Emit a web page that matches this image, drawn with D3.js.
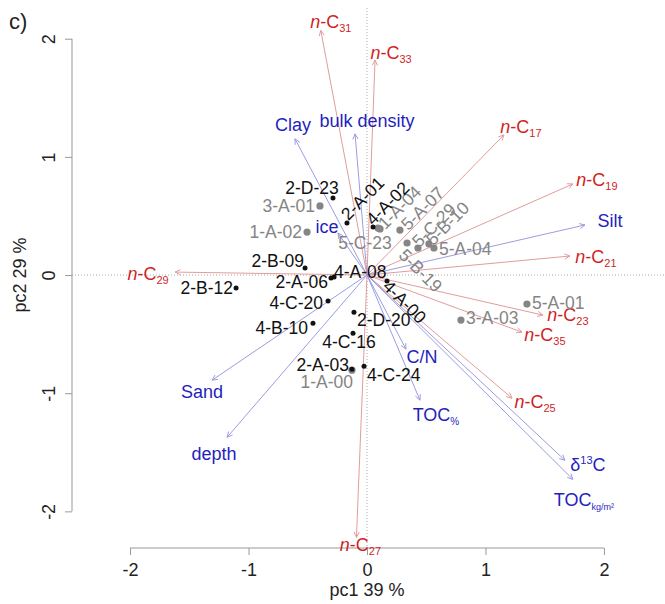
<!DOCTYPE html>
<html>
<head>
<meta charset="utf-8">
<script src="https://cdn.jsdelivr.net/npm/d3@7"></script>
<style>
body { margin: 0; background: #fff; }
text { font-family: "Liberation Sans", Arial, sans-serif; }
</style>
</head>
<body>
<svg id="chart" width="665" height="604"></svg>
<script>
// sample scores (pc1, pc2)
const sampleNames = ["3-A-01","1-A-02","1-A-04","5-C-23","5-A-07","5-B-19","5-C-29","5-B-10","5-A-04","5-A-01","3-A-03","1-A-00",
                     "2-D-23","2-A-01","4-A-02","2-B-09","2-A-06","4-A-08","2-B-12","4-C-20","4-B-10","2-D-20","4-C-16","2-A-03","4-C-24","4-A-00"];
const samplePC1 = [-0.397,-0.506,0.110,0.093,0.278,0.338,0.430,0.523,0.565,1.350,0.793,-0.127,
                   -0.287,-0.169,0.051,-0.523,-0.304,-0.278,-1.105,-0.329,-0.456,-0.110,-0.118,-0.127,-0.025,0.169];
const samplePC2 = [0.585,0.364,0.390,0.398,0.381,0.271,0.229,0.263,0.229,-0.246,-0.381,-0.805,
                   0.653,0.441,0.407,0.059,-0.025,-0.017,-0.110,-0.220,-0.407,-0.314,-0.492,-0.797,-0.771,-0.051];
const sampleGroup = ["g","g","g","g","g","g","g","g","g","g","g","g",
                     "b","b","b","b","b","b","b","b","b","b","b","b","b","b"];

// variable loadings (arrow tips)
const varNames = ["n-C17","n-C19","n-C21","n-C23","n-C25","n-C27","n-C29","n-C31","n-C33","n-C35",
                  "Clay","bulk density","ice","Silt","C/N","TOC%","δ13C","TOCkg/m²","Sand","depth"];
const varPC1 = [1.156,1.738,1.713,1.485,1.224,-0.089,-1.620,-0.390,0.068,1.308,
                -0.608,-0.101,-0.245,1.840,0.329,0.447,1.671,1.738,-1.308,-1.181];
const varPC2 = [1.186,0.771,0.161,-0.339,-1.042,-2.220,0.025,2.070,1.820,-0.483,
                1.153,1.195,0.356,0.424,-0.627,-1.059,-1.568,-1.729,-0.890,-1.373];
const varKind = ["alk","alk","alk","alk","alk","alk","alk","alk","alk","alk",
                 "env","env","env","env","env","env","env","env","env","env"];

const tickValues = [-2, -1, 0, 1, 2];

// label placement: [anchor, dx, dy, rotation]
const sampleLabelPos = {
  "2-D-23":["middle",-21,-10,0], "2-A-01":["start",-3,-6,-45], "4-A-02":["start",-4,-5,-45],
  "2-B-09":["end",-1,-7,0], "2-A-06":["end",-3,4,0], "4-A-08":["start",0,-5,0],
  "2-B-12":["end",-3,0,0], "4-C-20":["end",-5,2,0], "4-B-10":["end",-5,5,0],
  "2-D-20":["start",3,8,0], "4-C-16":["middle",-4,9,0], "2-A-03":["end",-3,-4,0],
  "4-C-24":["start",3,9,0], "4-A-00":["start",-1,2,45],
  "3-A-01":["end",-5,0,0], "1-A-02":["end",-5,0,0], "1-A-04":["start",1,-3,-45],
  "5-C-23":["middle",-13,15,0], "5-A-07":["start",4,-3,-45], "5-B-19":["start",-5,9,45],
  "5-C-29":["start",-3,-4,-45], "5-B-10":["start",0,-2,-45], "5-A-04":["start",5,1,0],
  "5-A-01":["start",5,-1,0], "3-A-03":["start",5,-2,0], "1-A-00":["end",1,12,0]
};
const varLabelNudge = {
  "n-C17":[17,-8], "n-C19":[24,-4], "Silt":[25,-4], "n-C21":[26,1], "n-C23":[25,0],
  "n-C35":[23,3], "n-C25":[23,4], "δ13C":[23,5], "TOCkg/m²":[11,21], "TOC%":[16,15],
  "C/N":[16,8], "n-C27":[4,8], "depth":[-13,17], "Sand":[-10,12], "n-C29":[-27,2],
  "Clay":[-2,-14], "bulk density":[12,-13], "ice":[-11,-6], "n-C31":[10,-8], "n-C33":[16,-7]
};

const colors = { g: "#858585", b: "#111111" };
const textColor = { alk: "#cf1f1f", env: "#1f1fbe" };
const arrowColor = { alk: "#e29c9c", env: "#9c9ce2" };

const svg = d3.select("#chart");
svg.append("rect").attr("width", 665).attr("height", 604).attr("fill", "#fff");

let x = d3.scaleLinear().domain([-2.49, 2.49]).range([72, 662]);
let y = d3.scaleLinear().domain([-2.31, 2.26]).range([548, 8]);

// zero reference lines
svg.append("line")
  .attr("x1", 72).attr("x2", 665).attr("y1", y(0)).attr("y2", y(0))
  .attr("stroke", "#aaa").attr("stroke-dasharray", "1,2");
svg.append("line")
  .attr("x1", x(0)).attr("x2", x(0)).attr("y1", 8).attr("y2", 548)
  .attr("stroke", "#aaa").attr("stroke-dasharray", "1,2");

// axes
let fmt = d => String(d);
let xAxis = svg.append("g").attr("transform", "translate(0,548)")
  .call(d3.axisBottom(x).tickValues(tickValues).tickFormat(fmt).tickSize(7).tickSizeOuter(0));
xAxis.select(".domain").remove();
xAxis.append("line").attr("x1", x(-2)).attr("x2", x(2)).attr("stroke", "#999");
xAxis.selectAll(".tick line").attr("stroke", "#999");
xAxis.selectAll(".tick text")
  .attr("y", 22).attr("dy", "0.35em")
  .attr("font-size", 18).attr("fill", "#222").attr("font-family", null);

let yAxis = svg.append("g").attr("transform", "translate(72,0)")
  .call(d3.axisLeft(y).tickValues(tickValues).tickFormat(fmt).tickSize(7).tickSizeOuter(0));
yAxis.select(".domain").remove();
yAxis.append("line").attr("y1", y(-2)).attr("y2", y(2)).attr("stroke", "#999");
yAxis.selectAll(".tick line").attr("stroke", "#999");
yAxis.selectAll(".tick text")
  .attr("x", 0).attr("y", 0).attr("dy", "0.35em")
  .attr("text-anchor", "middle")
  .attr("transform", "translate(-23,0) rotate(-90)")
  .attr("font-size", 18).attr("fill", "#222").attr("font-family", null);

svg.append("text").attr("x", x(0)).attr("y", 596)
  .attr("text-anchor", "middle").attr("font-size", 18).attr("fill", "#222")
  .text("pc1 39 %");
svg.append("text").attr("transform", "translate(26," + y(0) + ") rotate(-90)")
  .attr("text-anchor", "middle").attr("font-size", 18).attr("fill", "#222")
  .text("pc2 29 %");
svg.append("text").attr("x", 9).attr("y", 29).attr("font-size", 22).attr("fill", "#222").text("c)");

// variable arrows
let vars = varNames.map((n, i) => ({ name: n, px: varPC1[i], py: varPC2[i], kind: varKind[i] }));

let arrows = svg.append("g").selectAll("g").data(vars).enter().append("g");
arrows.append("line")
  .attr("x1", x(0)).attr("y1", y(0))
  .attr("x2", d => x(d.px)).attr("y2", d => y(d.py))
  .attr("stroke", d => arrowColor[d.kind]).attr("stroke-width", 1);
arrows.append("path")
  .attr("fill", "none")
  .attr("stroke", d => arrowColor[d.kind]).attr("stroke-width", 1)
  .attr("d", function(d) {
    let tx = x(d.px), ty = y(d.py);
    let a = Math.atan2(ty - y(0), tx - x(0));
    let len = 6, spread = 0.45;
    let p1 = [tx - len * Math.cos(a - spread), ty - len * Math.sin(a - spread)];
    let p2 = [tx - len * Math.cos(a + spread), ty - len * Math.sin(a + spread)];
    return "M" + p1 + "L" + tx + "," + ty + "L" + p2;
  });

// label parts with sub/superscripts
function labelParts(name) {
  let m = name.match(/^n-C(\d+)$/);
  if (m) return [{ t: "n", it: true }, { t: "-C" }, { t: m[1], sub: true, fs: 11 }];
  if (name === "δ13C") return [{ t: "δ" }, { t: "13", sup: true, fs: 11 }, { t: "C", back: true }];
  if (name === "TOC%") return [{ t: "TOC" }, { t: "%", sub: true, fs: 10 }];
  if (name === "TOCkg/m²") return [{ t: "TOC" }, { t: "kg/m²", sub: true, fs: 9 }];
  return [{ t: name }];
}

arrows.append("text")
  .attr("x", d => x(d.px) + varLabelNudge[d.name][0])
  .attr("y", d => y(d.py) + varLabelNudge[d.name][1] + 6)
  .attr("text-anchor", "middle")
  .attr("font-size", 18)
  .attr("fill", d => textColor[d.kind])
  .each(function(d) {
    let t = d3.select(this);
    labelParts(d.name).forEach(p => {
      let s = t.append("tspan").text(p.t);
      if (p.it) s.attr("font-style", "italic");
      if (p.fs) s.attr("font-size", p.fs);
      if (p.sub) s.attr("dy", 4);
      if (p.sup) s.attr("dy", -7);
      if (p.back) s.attr("dy", 7);
    });
  });

// samples
let samples = sampleNames.map((n, i) => ({ name: n, px: samplePC1[i], py: samplePC2[i], grp: sampleGroup[i] }));

let pts = svg.append("g").selectAll("g").data(samples).enter().append("g");
pts.append("circle")
  .attr("cx", d => x(d.px)).attr("cy", d => y(d.py))
  .attr("r", d => d.grp === "g" ? 3.6 : 2.5)
  .attr("fill", d => colors[d.grp]);
pts.append("text")
  .attr("transform", function(d) {
    let p = sampleLabelPos[d.name];
    return "translate(" + (x(d.px) + p[1]) + "," + (y(d.py) + p[2]) + ") rotate(" + p[3] + ")";
  })
  .attr("dy", "0.35em")
  .attr("text-anchor", d => sampleLabelPos[d.name][0])
  .attr("font-size", 17.5)
  .attr("fill", d => colors[d.grp])
  .text(d => d.name);
</script>
</body>
</html>
